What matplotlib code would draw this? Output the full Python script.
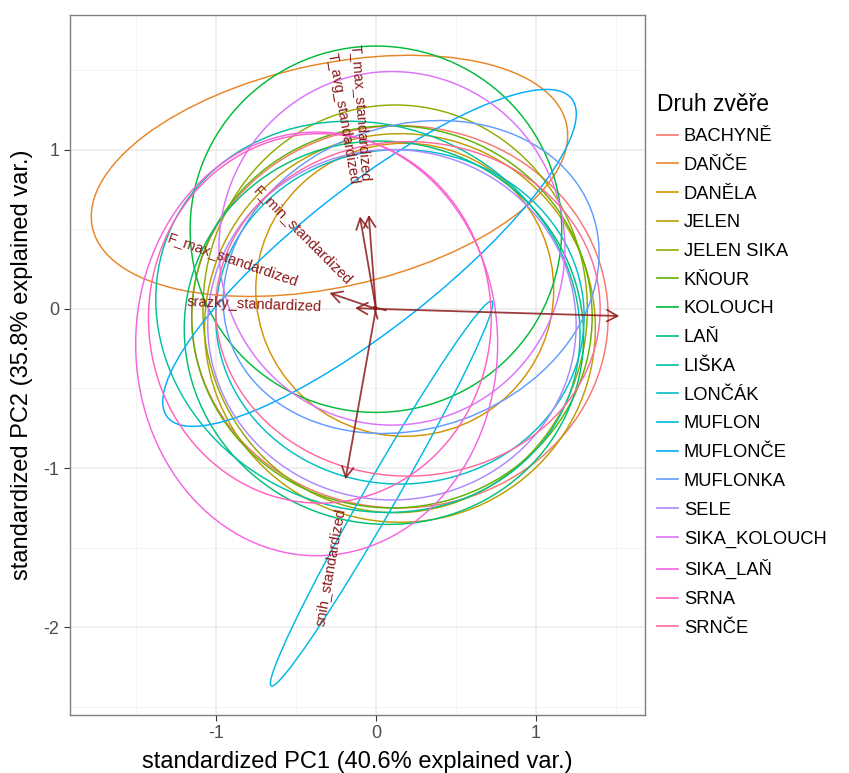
import numpy as np
import matplotlib
matplotlib.use("Agg")
import matplotlib.pyplot as plt
from matplotlib.patches import Ellipse
from matplotlib.lines import Line2D
from matplotlib.textpath import TextPath
from matplotlib.font_manager import FontProperties
import matplotlib.transforms as mtransforms

plt.rcParams['font.family'] = ['Liberation Sans', 'DejaVu Sans']
plt.rcParams['axes.unicode_minus'] = False

# skupiny (druh zvere) a jejich elipsy: stred, poloosy, natoceni
groups = ["BACHYNĚ", "DAŇČE", "DANĚLA", "JELEN", "JELEN SIKA", "KŇOUR", "KOLOUCH", "LAŇ", "LIŠKA",
          "LONČÁK", "MUFLON", "MUFLONČE", "MUFLONKA", "SELE", "SIKA_KOLOUCH", "SIKA_LAŇ", "SRNA", "SRNČE"]
ell_cx = [0.15, -0.29, 0.18, 0.15, 0.12, 0.10, 0.00, 0.05, -0.05, 0.15, 0.035, -0.04, 0.22, 0.10, 0.10, -0.37, -0.35, 0.20]
ell_cy = [-0.05, 0.835, 0.12, -0.12, 0.00, -0.05, 0.50, -0.15, -0.05, -0.05, -1.16, 0.32, 0.20, -0.10, 0.38, -0.22, -0.06, 0.00]
ell_a = [1.30, 1.515, 0.93, 1.22, 1.20, 1.25, 1.16, 1.25, 1.35, 1.15, 1.39, 1.61, 1.20, 1.15, 1.08, 1.13, 1.07, 1.20]
ell_b = [1.20, 0.70, 0.92, 1.22, 1.28, 1.20, 1.15, 1.20, 1.20, 1.05, 0.10, 0.44, 0.95, 1.10, 1.11, 1.33, 1.16, 1.05]
ell_ang = [0, 12.4, 0, 20, 0, 0, 0, -15, -25, 0, 60.3, 38.4, 20, 0, 0, 0, 0, 0]

# zatezi promennych (sipky)
var_names = ["T_max_standardized", "T_avg_standardized", "F_min_standardized", "F_max_standardized",
             "srazky_standardized", "snih_standardized", ""]
var_x = [-0.045, -0.10, -0.02, -0.29, -0.13, -0.19, 1.52]
var_y = [0.59, 0.58, 0.02, 0.10, 0.005, -1.07, -0.045]

x_ticks = [-1, 0, 1]
y_ticks = [-2, -1, 0, 1]


def hue_color(h, c=100.0, l=65.0):
    # polarLUV -> sRGB (jako scales::hue_pal v ggplot2)
    xn, yn, zn = 95.047, 100.0, 108.883
    u = c * np.cos(np.radians(h))
    v = c * np.sin(np.radians(h))
    y = yn * ((l + 16) / 116) ** 3
    un = 4 * xn / (xn + 15 * yn + 3 * zn)
    vn = 9 * yn / (xn + 15 * yn + 3 * zn)
    up = u / (13 * l) + un
    vp = v / (13 * l) + vn
    x = 9 * y * up / (4 * vp)
    z = y * (12 - 3 * up - 20 * vp) / (4 * vp)
    x, y, z = x / 100, y / 100, z / 100
    rgb = [3.2404542 * x - 1.5371385 * y - 0.4985314 * z,
           -0.9692660 * x + 1.8760108 * y + 0.0415560 * z,
           0.0556434 * x - 0.2040259 * y + 1.0572252 * z]
    out = []
    for t in rgb:
        t = 12.92 * t if t <= 0.0031308 else 1.055 * t ** (1 / 2.4) - 0.055
        out.append(min(max(t, 0), 1))
    return tuple(out)


n = len(groups)
colors = [hue_color(15 + 360 / n * i) for i in range(n)]

fig = plt.figure(figsize=(8.49, 7.73), dpi=100)
ax = fig.add_axes([70 / 849, 58 / 773, 575 / 849, 700 / 773])

ax.set_xlim(-1.91, 1.68)
ax.set_ylim(-2.55, 1.845)
ax.set_xticks(x_ticks)
ax.set_yticks(y_ticks)
ax.set_xticks([-1.5, -0.5, 0.5, 1.5], minor=True)
ax.set_yticks([-2.5, -1.5, -0.5, 0.5, 1.5], minor=True)
ax.grid(which='major', color='#EBEBEB', lw=1.1)
ax.grid(which='minor', color='#F2F2F2', lw=0.6)
ax.set_axisbelow(True)
ax.tick_params(which='minor', length=0)
ax.tick_params(which='major', length=4, color='#333333', labelsize=13, labelcolor='#4D4D4D', width=0.8)
for s in ax.spines.values():
    s.set_color('#7F7F7F')
    s.set_linewidth(1.0)

for i in range(n):
    e = Ellipse((ell_cx[i], ell_cy[i]), 2 * ell_a[i], 2 * ell_b[i], angle=ell_ang[i],
                fill=False, edgecolor=colors[i], lw=1.05)
    ax.add_patch(e)

arrow_col = '#8B1A1A'
for name, vx, vy in zip(var_names, var_x, var_y):
    ax.annotate('', xy=(vx, vy), xytext=(0, 0),
                arrowprops=dict(arrowstyle='->,head_length=0.55,head_width=0.3', color=arrow_col,
                                lw=1.3, alpha=0.85, shrinkA=0, shrinkB=0, mutation_scale=14))

# popisky jako v ggbiplot: uhel podle sipky, hjust = 0.5*(1 - 1.5*sign(x))
lab_size = 10.5
fp = FontProperties(family='Liberation Sans', size=lab_size)
for name, vx, vy in zip(var_names, var_x, var_y):
    if not name:
        continue
    ang = np.degrees(np.arctan(vy / vx))
    L = TextPath((0, 0), name, prop=fp).get_extents().width
    d = np.array([np.cos(np.radians(ang)), np.sin(np.radians(ang))])
    if vx < 0:
        off = -0.25 * L * d
        ha = 'right'
    else:
        off = 0.25 * L * d
        ha = 'left'
    tr = mtransforms.offset_copy(ax.transData, fig=fig, x=off[0], y=off[1], units='points')
    ax.text(vx, vy, name, rotation=ang, rotation_mode='anchor', ha=ha, va='center',
            color=arrow_col, fontsize=lab_size, transform=tr, clip_on=True)

ax.set_xlabel('standardized PC1 (40.6% explained var.)', fontsize=17, labelpad=6)
ax.set_ylabel('standardized PC2 (35.8% explained var.)', fontsize=17, labelpad=8)

handles = [Line2D([0], [0], color=colors[i], lw=1.2) for i in range(n)]
leg = fig.legend(handles, groups, loc='upper left', bbox_to_anchor=(650 / 849, 1 - 86 / 773),
                 frameon=False, fontsize=13.2, title='Druh zvěře', title_fontsize=16.5,
                 handlelength=1.15, handletextpad=0.3, labelspacing=0.64, borderaxespad=0)
leg._legend_box.align = 'left'

fig.savefig('out.png', dpi=100)
